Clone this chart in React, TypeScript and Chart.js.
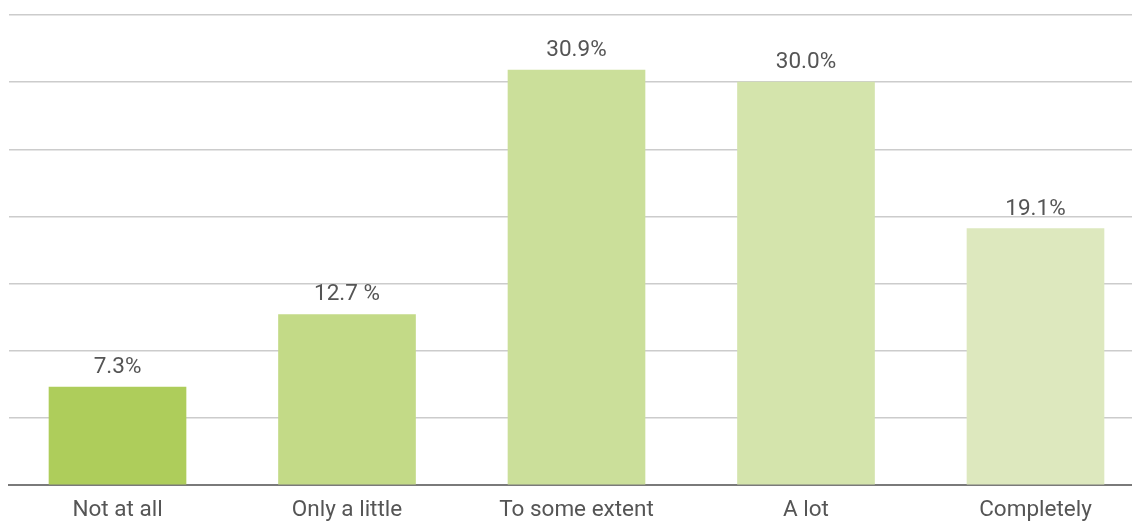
import React, { useEffect, useRef } from "react";
import { Chart, registerables } from "chart.js";

Chart.register(...registerables);

const categories = ["Not at all", "Only a little", "To some extent", "A lot", "Completely"];
const values = [7.3, 12.7, 30.9, 30.0, 19.1];
const valueLabels = ["7.3%", "12.7 %", "30.9%", "30.0%", "19.1%"];
const barColors = ["#aecd5b", "#c3da87", "#cbdf9a", "#d4e4ac", "#dde8be"];

const FONT = "Roboto, 'Liberation Sans', sans-serif";

const valueLabelPlugin = {
  id: "valueLabels",
  afterDatasetsDraw(chart: any) {
    const ctx = chart.ctx;
    const meta = chart.getDatasetMeta(0);
    ctx.save();
    ctx.font = `22.5px ${FONT}`;
    ctx.fillStyle = "#555555";
    ctx.textAlign = "center";
    ctx.textBaseline = "alphabetic";
    meta.data.forEach((el: any, i: number) => {
      ctx.fillText(valueLabels[i], el.x, el.y - 14);
    });
    ctx.restore();
  },
};

export default function App() {
  const ref = useRef<HTMLCanvasElement>(null);
  useEffect(() => {
    document.body.style.margin = "8px 0 0 8px";
    const chart = new Chart(ref.current!, {
      type: "bar",
      data: {
        datasets: [
          {
            data: categories.map((_, i) => ({ x: i, y: values[i] })),
            backgroundColor: barColors,
            barThickness: 137,
            borderWidth: 0,
          },
        ],
      },
      options: {
        animation: false,
        responsive: false,
        layout: { padding: { top: 7, left: 1, right: 0, bottom: 0 } },
        plugins: { legend: { display: false }, tooltip: { enabled: false } },
        scales: {
          x: {
            type: "linear",
            offset: false,
            min: -0.4728,
            max: 4.4205,
            grid: { display: false, drawTicks: false },
            border: { display: true, color: "#7a7a7a", width: 2 },
            afterBuildTicks: (axis: any) => {
              axis.ticks = categories.map((_, i) => ({ value: i }));
            },
            afterFit: (axis: any) => {
              axis.height = 39;
            },
            ticks: {
              padding: 14,
              autoSkip: false,
              maxRotation: 0,
              color: "#555555",
              font: { family: FONT, size: 22.5, lineHeight: 1 },
              callback: (v: any) => categories[v] ?? "",
            },
          },
          y: {
            min: 0,
            max: 35,
            ticks: { display: false, stepSize: 5 },
            grid: { color: "#cccccc", lineWidth: 1.5, drawTicks: false },
            border: { display: false },
          },
        },
      },
      plugins: [valueLabelPlugin],
    } as any);
    return () => chart.destroy();
  }, []);
  return (
    <div style={{ width: 1124, height: 516 }}>
      <canvas ref={ref} width={1124} height={516} style={{ display: "block" }} />
    </div>
  );
}
